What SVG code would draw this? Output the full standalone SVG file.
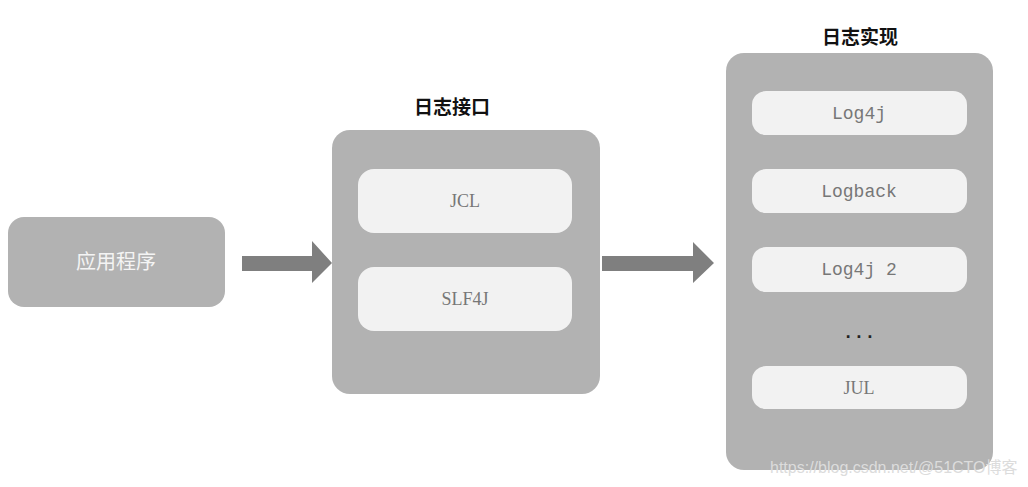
<svg xmlns="http://www.w3.org/2000/svg" width="1028" height="487" viewBox="0 0 1028 487">
<style>
.outer{fill:#b2b2b2}
.inner{fill:#f2f2f2}
.arrow{fill:#7f7f7f}
.title{font-family:"Noto Sans CJK SC",sans-serif;font-weight:bold;font-size:19px;fill:#111;text-anchor:middle}
.app{font-family:"Noto Sans CJK SC",sans-serif;font-size:20px;fill:#f4f4f4;text-anchor:middle}
.serif{font-family:"Liberation Serif",serif;font-size:18px;fill:#777;text-anchor:middle}
.mono{font-family:"Liberation Mono",monospace;font-size:18px;fill:#777;text-anchor:middle}
.wm{font-family:"Liberation Sans","Noto Sans CJK SC",sans-serif;font-size:16px;fill:#dcdcdc}
</style>
<rect width="1028" height="487" fill="#ffffff"/>
<g id="app">
<rect class="outer" x="8" y="217" width="217" height="90" rx="16"/>
<text class="app" x="116" y="269">应用程序</text>
</g>
<g id="api">
<text class="title" x="452" y="114">日志接口</text>
<rect class="outer" x="332" y="130" width="268" height="264" rx="18"/>
<g id="jcl">
<rect class="inner" x="358" y="169" width="214" height="64" rx="16"/>
<text class="serif" x="465" y="207">JCL</text>
</g>
<g id="slf4j">
<rect class="inner" x="358" y="267" width="214" height="64" rx="16"/>
<text class="serif" x="465" y="305">SLF4J</text>
</g>
</g>
<g id="impl">
<text class="title" x="860" y="44">日志实现</text>
<rect class="outer" x="726" y="53" width="267" height="417" rx="18"/>
<g id="log4j">
<rect class="inner" x="752" y="91" width="215" height="44" rx="14"/>
<text class="mono" x="859" y="119">Log4j</text>
</g>
<g id="logback">
<rect class="inner" x="752" y="169" width="215" height="44" rx="14"/>
<text class="mono" x="859" y="197">Logback</text>
</g>
<g id="log4j2">
<rect class="inner" x="752" y="247" width="215" height="45" rx="14"/>
<text class="mono" x="859" y="275">Log4j 2</text>
</g>
<text class="mono" x="859" y="338" style="fill:#222;font-weight:bold">...</text>
<g id="jul">
<rect class="inner" x="752" y="366" width="215" height="43" rx="14"/>
<text class="serif" x="859" y="394">JUL</text>
</g>
</g>
<g id="connectors">
<polygon class="arrow" points="242,256 312,256 312,241 332,263 312,283 312,271 242,271"/>
<polygon class="arrow" points="602,256 693,256 693,242 714,263 693,283 693,271 602,271"/>
</g>
<text class="wm" x="770" y="473">https://blog.csdn.net/</text>
<text class="wm" x="918" y="473">@51CTO博客</text>
</svg>
